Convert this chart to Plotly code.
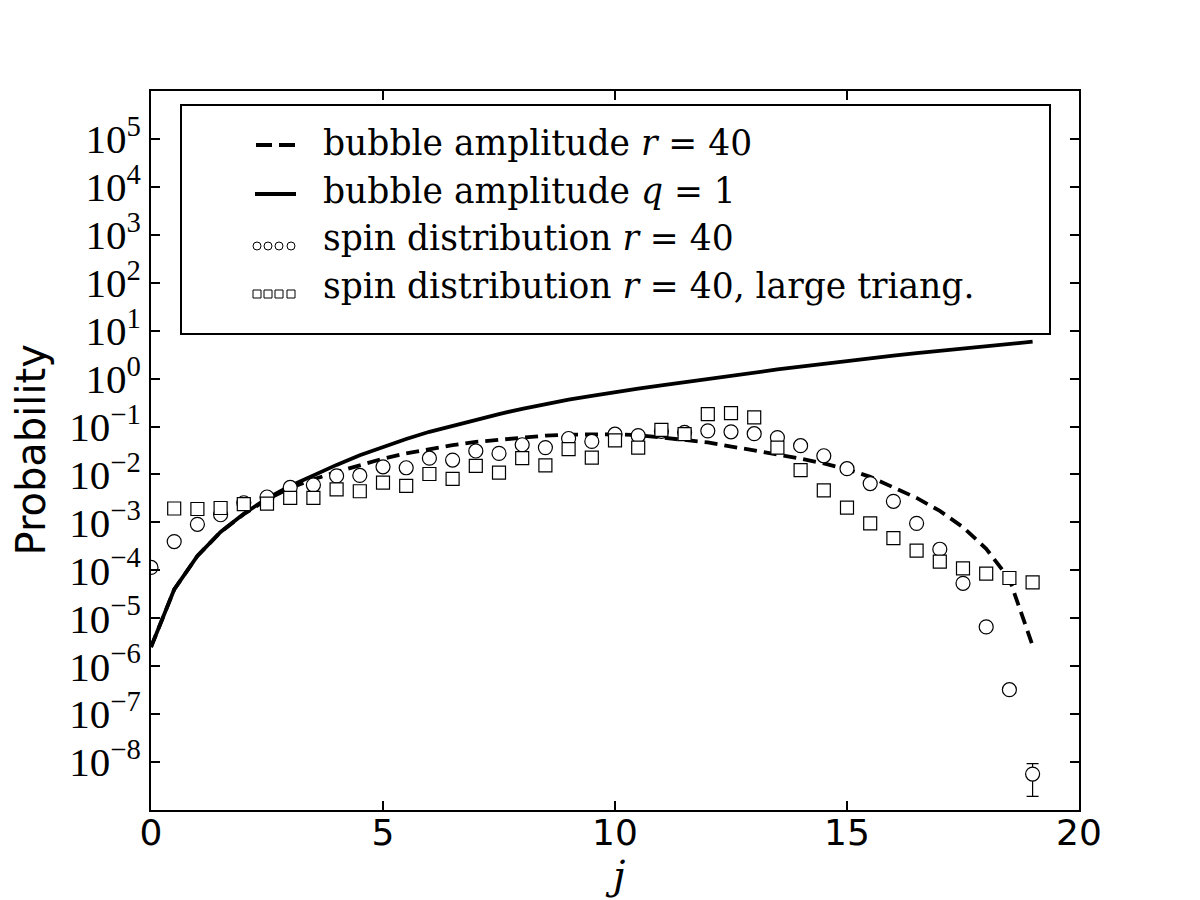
import plotly.graph_objects as go
import numpy as np

# j values (0 .. 19 in steps of 0.5)
j = [0, 0.5, 1, 1.5, 2, 2.5, 3, 3.5, 4, 4.5, 5, 5.5, 6, 6.5, 7, 7.5, 8, 8.5, 9, 9.5,
     10, 10.5, 11, 11.5, 12, 12.5, 13, 13.5, 14, 14.5, 15, 15.5, 16, 16.5, 17, 17.5,
     18, 18.5, 19]

# log10 of the probabilities
bubble_r40_log = [-5.6, -4.4, -3.7, -3.2, -2.83, -2.52, -2.28, -2.10, -1.95, -1.81,
                  -1.67, -1.56, -1.47, -1.39, -1.32, -1.27, -1.23, -1.19, -1.17, -1.16,
                  -1.16, -1.18, -1.22, -1.28, -1.33, -1.41, -1.50, -1.58, -1.67, -1.77,
                  -1.89, -2.05, -2.26, -2.49, -2.76, -3.10, -3.55, -4.18, -5.57]
bubble_q1_log = [-5.6, -4.4, -3.7, -3.2, -2.82, -2.50, -2.24, -2.01, -1.80, -1.60,
                 -1.42, -1.26, -1.11, -0.98, -0.86, -0.74, -0.63, -0.53, -0.44, -0.36,
                 -0.28, -0.21, -0.14, -0.07, 0.00, 0.07, 0.13, 0.19, 0.25, 0.31,
                 0.37, 0.42, 0.48, 0.53, 0.58, 0.63, 0.68, 0.73, 0.77]
spin_r40_log = [-3.94, -3.40, -3.04, -2.84, -2.59, -2.47, -2.27, -2.22, -2.03, -2.02,
                -1.84, -1.86, -1.66, -1.70, -1.51, -1.56, -1.38, -1.44, -1.25, -1.31,
                -1.16, -1.19, -1.10, -1.12, -1.09, -1.11, -1.15, -1.23, -1.40, -1.61,
                -1.88, -2.19, -2.56, -3.02, -3.56, -4.27, -5.18, -6.49, -8.25]
spin_r40_err = [None] * 38 + [3.7e-9]
large_j = j[1:]
spin_large_log = [-2.71, -2.72, -2.70, -2.62, -2.61, -2.49, -2.49, -2.31, -2.35,
                  -2.17, -2.24, -1.99, -2.09, -1.82, -1.96, -1.66, -1.81, -1.47, -1.65,
                  -1.29, -1.44, -1.07, -1.16, -0.74, -0.72, -0.81, -1.44, -1.91, -2.33,
                  -2.69, -3.02, -3.33, -3.59, -3.82, -3.96, -4.07, -4.16, -4.25]

legend_labels = ["bubble amplitude <i>r</i> = 40",
                 "bubble amplitude <i>q</i> = 1",
                 "spin distribution <i>r</i> = 40",
                 "spin distribution <i>r</i> = 40, large triang."]

y_exps = list(range(-8, 6))


def sup(e):
    return "10<sup>" + str(e).replace("-", "\u2212") + "</sup>"


DASH = "13px,7px"
fig = go.Figure()

fig.add_trace(go.Scatter(x=j, y=10 ** np.array(bubble_r40_log), mode="lines",
                         line=dict(color="black", width=3.8, dash=DASH)))
fig.add_trace(go.Scatter(x=j, y=10 ** np.array(bubble_q1_log), mode="lines",
                         line=dict(color="black", width=3.8)))
fig.add_trace(go.Scatter(x=j, y=10 ** np.array(spin_r40_log), mode="markers",
                         marker=dict(symbol="circle", size=14, color="white",
                                     line=dict(color="black", width=1.2)),
                         error_y=dict(type="data", array=spin_r40_err, visible=True,
                                      color="black", thickness=1.2, width=6)))
fig.add_trace(go.Scatter(x=large_j, y=10 ** np.array(spin_large_log), mode="markers",
                         marker=dict(symbol="square", size=13, color="white",
                                     line=dict(color="black", width=1.2))))

# hand-made legend on a hidden pixel-scaled overlay axis (plot area is 928 x 719 px)
row_y = [665, 616, 564, 516]
fig.add_shape(type="rect", xref="x2", yref="y2", x0=30, x1=899, y0=476, y1=705,
              line=dict(color="black", width=2), fillcolor="white", layer="below")
fig.add_trace(go.Scatter(x=[105, 145], y=[row_y[0], row_y[0]], xaxis="x2", yaxis="y2",
                         mode="lines", line=dict(color="black", width=3.8, dash="16px,7px")))
fig.add_trace(go.Scatter(x=[104, 145], y=[row_y[1], row_y[1]], xaxis="x2", yaxis="y2",
                         mode="lines", line=dict(color="black", width=3.8)))
fig.add_trace(go.Scatter(x=[106, 117, 128, 140], y=[row_y[2]] * 4, xaxis="x2", yaxis="y2",
                         mode="markers",
                         marker=dict(symbol="circle", size=8, color="white",
                                     line=dict(color="black", width=1))))
fig.add_trace(go.Scatter(x=[106, 117, 128, 140], y=[row_y[3]] * 4, xaxis="x2", yaxis="y2",
                         mode="markers",
                         marker=dict(symbol="square", size=8, color="white",
                                     line=dict(color="black", width=1))))
for label, yy in zip(legend_labels, [667, 619, 572, 524]):
    fig.add_annotation(x=171, y=yy, xref="x2", yref="y2", text=label, showarrow=False,
                       xanchor="left", yanchor="middle", borderpad=0,
                       font=dict(family="DejaVu Serif", size=34.5, color="black"))

# axis titles placed as annotations so they sit where the reference has them
fig.add_annotation(x=0, y=0.5, xref="paper", yref="paper", xshift=-121,
                   text="Probability", textangle=-90, showarrow=False,
                   xanchor="center", yanchor="middle",
                   font=dict(family="DejaVu Sans", size=40, color="black"))
fig.add_annotation(x=0.5, y=0, xref="paper", yref="paper", yshift=-65,
                   text="<i>j</i>", showarrow=False, xanchor="center", yanchor="middle",
                   font=dict(family="DejaVu Serif", size=40, color="black"))

fig.update_layout(
    width=1200, height=900,
    margin=dict(l=143, r=129, t=83, b=98, autoexpand=False),
    plot_bgcolor="white", paper_bgcolor="white",
    showlegend=False,
    xaxis=dict(range=[0, 20], tickvals=[0, 5, 10, 15, 20], ticks="inside", ticklen=9,
               tickwidth=1.5, tickcolor="black", mirror="ticks", showline=True,
               linewidth=2, linecolor="black", showgrid=False, zeroline=False,
               automargin=False, ticklabelstandoff=-10,
               tickfont=dict(family="DejaVu Sans", size=36, color="black")),
    yaxis=dict(type="log", range=[-9, 6], tickvals=[10.0 ** e for e in y_exps],
               ticktext=[sup(e) for e in y_exps], ticks="inside", ticklen=9,
               tickwidth=1.5, tickcolor="black", mirror="ticks", showline=True,
               linewidth=2, linecolor="black", showgrid=False, zeroline=False,
               automargin=False,
               tickfont=dict(family="Liberation Serif", size=41, color="black")),
    xaxis2=dict(overlaying="x", range=[0, 928], visible=False, anchor="y2"),
    yaxis2=dict(overlaying="y", range=[0, 719], visible=False, anchor="x2"),
)

fig.write_html("out.html")
